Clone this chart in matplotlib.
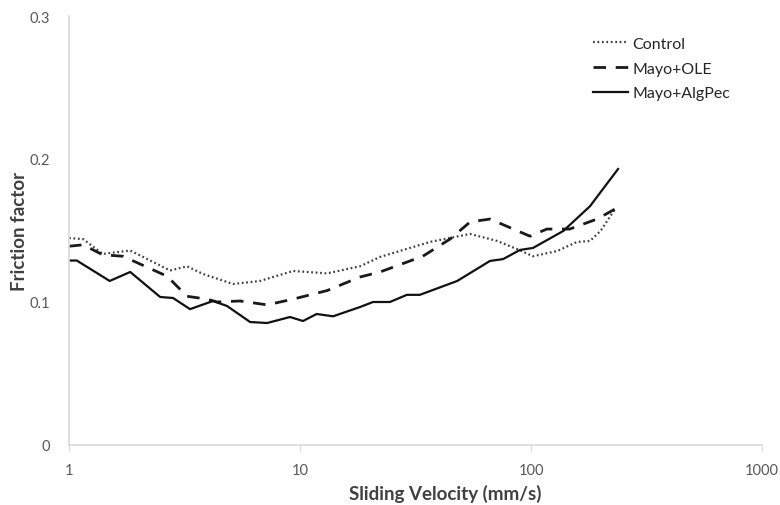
import numpy as np
import matplotlib
matplotlib.use("Agg")
import matplotlib.pyplot as plt

plt.rcParams["font.family"] = ["Lato", "DejaVu Sans"]

# values (velocity in mm/s, friction factor)
control_v = [1.0, 1.15, 1.40, 1.84, 2.74, 3.24, 3.80, 5.13, 6.71, 9.33, 13.1, 18.2,
             22.2, 36.5, 54.5, 71.3, 87, 102, 130, 158, 180, 200, 231]
control_f = [0.1447, 0.144, 0.1336, 0.136, 0.122, 0.125, 0.1196, 0.1126, 0.1147, 0.1217,
             0.120, 0.125, 0.1315, 0.142, 0.1476, 0.1427, 0.137, 0.132, 0.1357, 0.142,
             0.1427, 0.1497, 0.165]

ole_v = [1.0, 1.15, 1.40, 1.71, 2.66, 3.24, 3.96, 4.37, 5.5, 7.2, 9.33, 13.1, 18.2,
         22.2, 34, 44.6, 54.5, 66.4, 99, 117, 147, 193, 231]
ole_f = [0.139, 0.140, 0.133, 0.132, 0.118, 0.104, 0.102, 0.100, 0.1007, 0.098, 0.102,
         0.108, 0.1175, 0.121, 0.132, 0.144, 0.156, 0.158, 0.146, 0.151, 0.151, 0.158,
         0.165]

alg_v = [1.0, 1.08, 1.50, 1.84, 2.48, 2.82, 3.34, 4.20, 4.83, 6.08, 7.2, 9.05, 10.3,
         11.8, 13.9, 18.2, 20.7, 24.5, 29, 33, 47.9, 66.4, 75.7, 89.6, 102, 138, 180, 238]
alg_f = [0.129, 0.129, 0.1147, 0.121, 0.1035, 0.1028, 0.095, 0.1007, 0.0972, 0.086,
         0.0853, 0.0895, 0.0867, 0.0916, 0.090, 0.0965, 0.100, 0.100, 0.105, 0.105,
         0.1147, 0.1287, 0.130, 0.1364, 0.1378, 0.1497, 0.167, 0.193]

x_ticks = [1, 10, 100, 1000]
y_ticks = [0, 0.1, 0.2, 0.3]

fig = plt.figure(figsize=(7.8, 5.06), dpi=100)
ax = fig.add_axes([0.0885, 0.1186, 0.8885, 0.8478])

ax.plot(control_v, control_f, color="#404040", lw=1.6, linestyle=(0, (0.8, 1.2)),
        label="Control")
ax.plot(ole_v, ole_f, color="#1a1a1a", lw=2.0, linestyle=(0, (4.5, 3.5)),
        label="Mayo+OLE")
ax.plot(alg_v, alg_f, color="#111111", lw=1.6, label="Mayo+AlgPec")

ax.set_xscale("log")
ax.set_xlim(1, 1000)
ax.set_ylim(0, 0.3)
ax.set_xticks(x_ticks)
ax.set_xticklabels([str(t) for t in x_ticks])
ax.set_yticks(y_ticks)
ax.set_yticklabels(["0", "0.1", "0.2", "0.3"])
ax.minorticks_off()

for s in ["top", "right"]:
    ax.spines[s].set_visible(False)
for s in ["left", "bottom"]:
    ax.spines[s].set_color("#d9d9d9")
    ax.spines[s].set_linewidth(1.2)

ax.tick_params(axis="y", length=0, pad=14, labelsize=10.5, labelcolor="#595959")
ax.tick_params(axis="x", length=4, color="#d9d9d9", pad=9, labelsize=10.5,
               labelcolor="#595959")

ax.set_xlabel("Sliding Velocity (mm/s)", fontsize=13.5, fontweight="bold",
              color="#404040")
ax.set_ylabel("Friction factor", fontsize=13.5, fontweight="bold", color="#404040")
ax.xaxis.set_label_coords(0.543, -0.111)
ax.yaxis.set_label_coords(-0.072, 0.5)
ax.xaxis.label.set_va("center")
ax.yaxis.label.set_va("center")

ax.legend(loc="upper left", bbox_to_anchor=(0.735, 0.985), frameon=False,
          fontsize=11.5, handlelength=2.2, handletextpad=0.3, labelspacing=0.65,
          labelcolor="#262626")

fig.savefig("out.png", dpi=100)
